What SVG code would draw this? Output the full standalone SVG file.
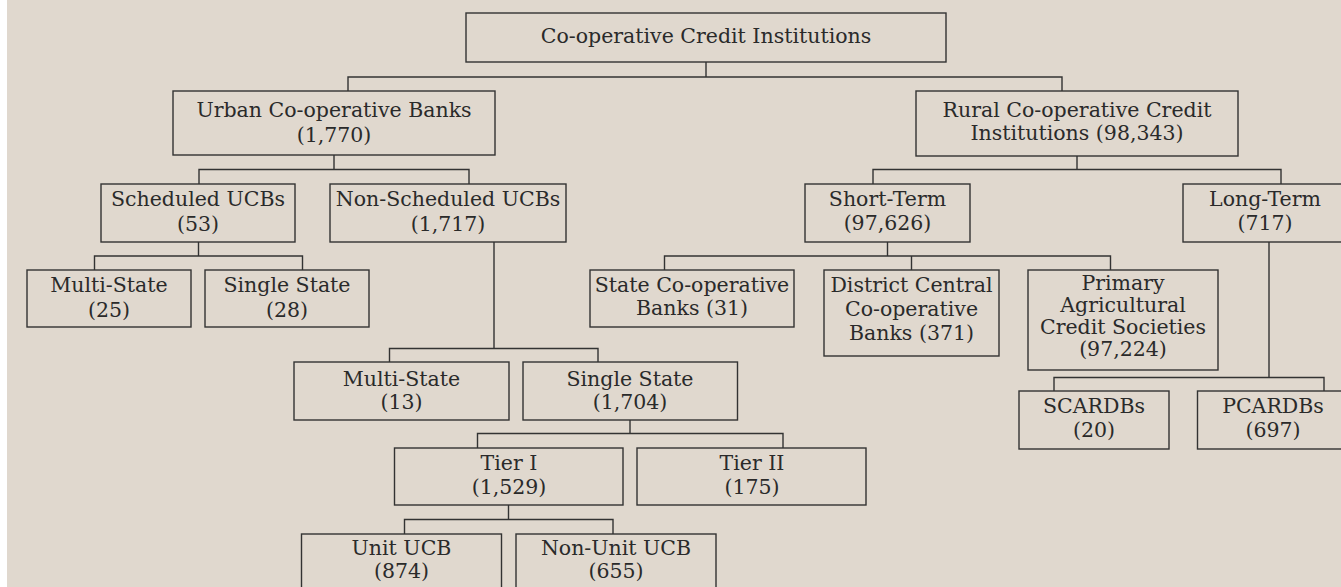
<svg xmlns="http://www.w3.org/2000/svg" width="1341" height="587" viewBox="0 0 1341 587">
<style>
.box{fill:none;stroke:#333;stroke-width:1.4}
.ln{fill:none;stroke:#333;stroke-width:1.4}
.t{font-family:"DejaVu Serif","Liberation Serif",serif;font-size:20.5px;fill:#2a2a2a;text-anchor:middle}
</style>
<rect x="0" y="0" width="1341" height="587" fill="#ffffff"/>
<rect x="7" y="0" width="1334" height="587" fill="#e0d8ce"/>
<g id="connectors">
<path class="ln" d="M706,62V77M348,91V77H1062V91"/>
<path class="ln" d="M334,155V169.5M199,184V169.5H469V184"/>
<path class="ln" d="M1077,156V169.5M873,184V169.5H1281V184"/>
<path class="ln" d="M198.5,242V256M94.5,270V256H302.5V270"/>
<path class="ln" d="M494,242V348.5M389.5,362V348.5H598V362"/>
<path class="ln" d="M887.5,242V256M664.5,270V256H1110.5V270M911.5,256V270"/>
<path class="ln" d="M1269,242V377.5M1054,391V377.5H1324V391"/>
<path class="ln" d="M630,420V433.5M477.5,448V433.5H783V448"/>
<path class="ln" d="M508.5,505V519.5M404.5,534V519.5H613V534"/>
</g>
<g id="root"><rect class="box" x="466" y="13" width="480" height="49"/><text class="t" x="706" y="43">Co-operative Credit Institutions</text></g>
<g id="urban"><rect class="box" x="173" y="91" width="322" height="64"/><text class="t" x="334" y="117">Urban Co-operative Banks</text><text class="t" x="334" y="142">(1,770)</text></g>
<g id="rural"><rect class="box" x="916" y="91" width="322" height="65"/><text class="t" x="1077" y="117">Rural Co-operative Credit</text><text class="t" x="1077" y="140">Institutions (98,343)</text></g>
<g id="scheduled"><rect class="box" x="101" y="184" width="194" height="58"/><text class="t" x="198" y="206">Scheduled UCBs</text><text class="t" x="198" y="231">(53)</text></g>
<g id="nonscheduled"><rect class="box" x="330" y="184" width="236" height="58"/><text class="t" x="448" y="206">Non-Scheduled UCBs</text><text class="t" x="448" y="231">(1,717)</text></g>
<g id="shortterm"><rect class="box" x="805" y="184" width="165" height="58"/><text class="t" x="887.5" y="206">Short-Term</text><text class="t" x="887.5" y="230">(97,626)</text></g>
<g id="longterm"><rect class="box" x="1183" y="184" width="164" height="58"/><text class="t" x="1265" y="206">Long-Term</text><text class="t" x="1265" y="230">(717)</text></g>
<g id="ms25"><rect class="box" x="27" y="270" width="164" height="57"/><text class="t" x="109" y="292">Multi-State</text><text class="t" x="109" y="317">(25)</text></g>
<g id="ss28"><rect class="box" x="205" y="270" width="164" height="57"/><text class="t" x="287" y="292">Single State</text><text class="t" x="287" y="317">(28)</text></g>
<g id="stcb"><rect class="box" x="590" y="270" width="204" height="57"/><text class="t" x="692" y="292">State Co-operative</text><text class="t" x="692" y="315">Banks (31)</text></g>
<g id="dccb"><rect class="box" x="824" y="270" width="175" height="86"/><text class="t" x="911.5" y="292">District Central</text><text class="t" x="911.5" y="316">Co-operative</text><text class="t" x="911.5" y="340">Banks (371)</text></g>
<g id="pacs"><rect class="box" x="1028" y="270" width="190" height="100"/><text class="t" x="1123" y="290">Primary</text><text class="t" x="1123" y="312">Agricultural</text><text class="t" x="1123" y="334">Credit Societies</text><text class="t" x="1123" y="356">(97,224)</text></g>
<g id="ms13"><rect class="box" x="294" y="362" width="215" height="58"/><text class="t" x="401.5" y="386">Multi-State</text><text class="t" x="401.5" y="409">(13)</text></g>
<g id="ss1704"><rect class="box" x="523" y="362" width="214.5" height="58"/><text class="t" x="630" y="386">Single State</text><text class="t" x="630" y="409">(1,704)</text></g>
<g id="scardb"><rect class="box" x="1019" y="391" width="150" height="58"/><text class="t" x="1094" y="413">SCARDBs</text><text class="t" x="1094" y="437">(20)</text></g>
<g id="pcardb"><rect class="box" x="1197.5" y="391" width="152" height="58"/><text class="t" x="1273" y="413">PCARDBs</text><text class="t" x="1273" y="437">(697)</text></g>
<g id="tier1"><rect class="box" x="394.5" y="448" width="228.5" height="57"/><text class="t" x="509" y="470">Tier I</text><text class="t" x="509" y="494">(1,529)</text></g>
<g id="tier2"><rect class="box" x="637" y="448" width="229" height="57"/><text class="t" x="752" y="470">Tier II</text><text class="t" x="752" y="494">(175)</text></g>
<g id="unit"><rect class="box" x="301.5" y="534" width="200" height="70"/><text class="t" x="401.5" y="555">Unit UCB</text><text class="t" x="401.5" y="578">(874)</text></g>
<g id="nonunit"><rect class="box" x="516" y="534" width="200" height="70"/><text class="t" x="616" y="555">Non-Unit UCB</text><text class="t" x="616" y="578">(655)</text></g>
</svg>
